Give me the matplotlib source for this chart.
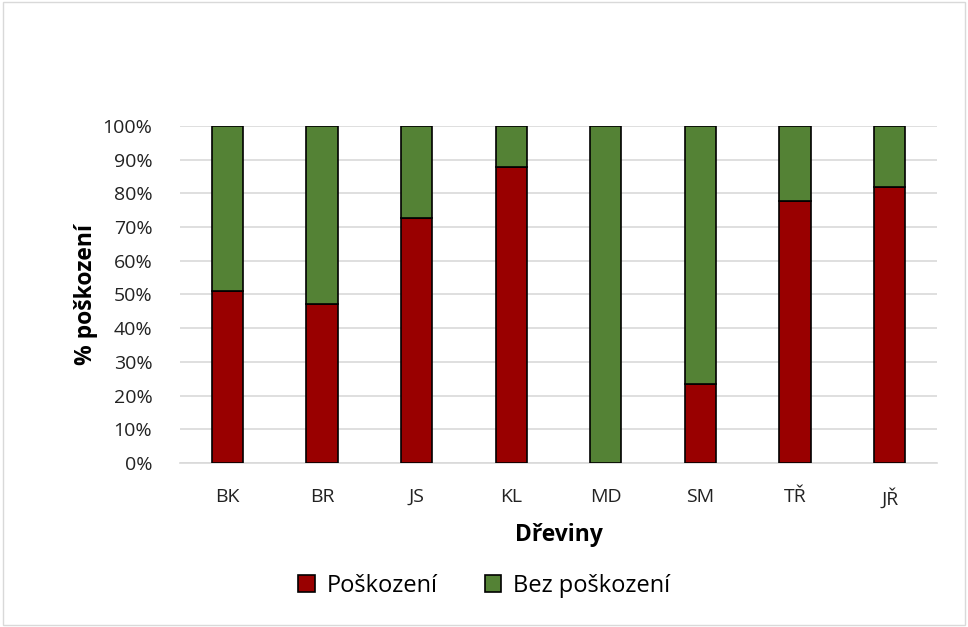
import numpy as np
import matplotlib.pyplot as plt
from matplotlib.ticker import PercentFormatter

# data
dreviny = ["BK", "BR", "JS", "KL", "MD", "SM", "TŘ", "JŘ"]
poskozeni = [51.1, 47.1, 72.6, 87.7, 0.0, 23.4, 77.8, 82.0]
bez_poskozeni = [100 - v for v in poskozeni]

plt.rcParams['font.family'] = ['Open Sans', 'DejaVu Sans']

fig = plt.figure(figsize=(9.68, 6.27), dpi=100)
ax = fig.add_axes([0.186, 0.2616, 0.782, 0.5375])

x = np.arange(len(dreviny))
w = 0.33
ax.bar(x, poskozeni, w, color="#990000", edgecolor="black", linewidth=1.2,
       label="Poškození", zorder=3)
ax.bar(x, bez_poskozeni, w, bottom=poskozeni, color="#548235", edgecolor="black",
       linewidth=1.2, label="Bez poškození", zorder=3)

ax.set_xlim(-0.5, len(dreviny) - 0.5)
ax.set_ylim(0, 100)
ax.set_yticks(np.arange(0, 101, 10))
ax.yaxis.set_major_formatter(PercentFormatter(decimals=0))
ax.set_xticks(x)
ax.set_xticklabels(dreviny)
ax.tick_params(axis='both', length=0, labelsize=14, colors="#222222")
ax.tick_params(axis='y', pad=20)
ax.tick_params(axis='x', pad=18)
ax.grid(axis='y', color="#d9d9d9", linewidth=1.2, zorder=0)
for s in ["top", "right", "left"]:
    ax.spines[s].set_visible(False)
ax.spines["bottom"].set_color("#d9d9d9")
ax.spines["bottom"].set_linewidth(1.2)

ax.set_xlabel("Dřeviny", fontsize=16.5, fontweight="bold", labelpad=10)
ax.set_ylabel("% poškození", fontsize=16.5, fontweight="bold", labelpad=3)

fig.legend(loc="center", bbox_to_anchor=(0.5, 0.066), ncol=2, frameon=False,
           fontsize=17, handlelength=0.7, handleheight=0.7, handletextpad=0.5,
           columnspacing=2.0)

# outer border
fig.patches.append(plt.Rectangle((0.003, 0.003), 0.994, 0.994, transform=fig.transFigure,
                                 fill=False, edgecolor="#d9d9d9", linewidth=1))

fig.savefig("out.png", dpi=100)
